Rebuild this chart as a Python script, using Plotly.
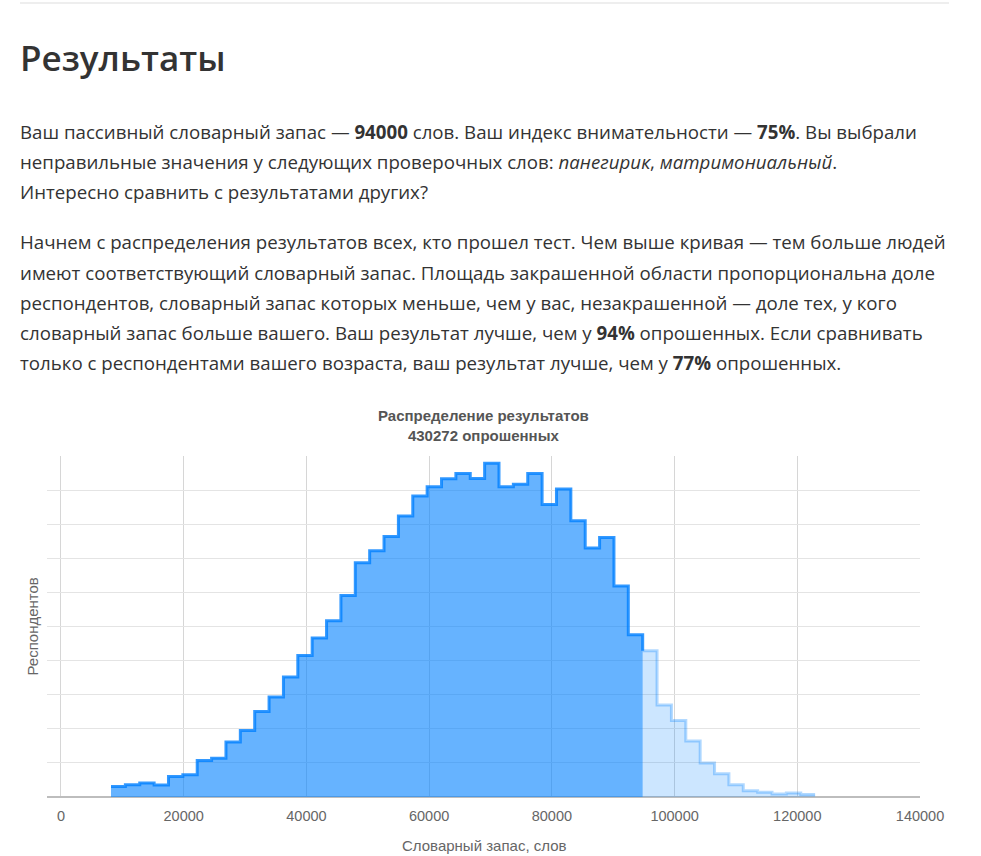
import plotly.graph_objects as go

# histogram of vocabulary results, bins of ~2342 words starting at 8150
bin_start = 8150
bin_width = 2342

below_counts = [620, 720, 820, 700, 1200, 1300, 2140, 2280, 3220, 3900,
                5020, 5860, 7040, 8300, 9320, 10340, 11820, 13740, 14440, 15280,
                16480, 17660, 18200, 18660, 18980, 18680, 19580, 18200, 18340, 18980,
                17160, 18060, 16200, 14600, 15220, 12380, 9520]
above_counts = [8580, 5400, 4480, 3280, 2000, 1360, 720, 360, 280, 180, 240, 140]

x_ticks = [0, 20000, 40000, 60000, 80000, 100000, 120000, 140000]
x_labels = ['0', '20000', '40000', '60000', '80000', '100000', '120000', '140000']

heading = 'Результаты'
para1 = [
    'Ваш пассивный словарный запас — <b>94000</b> слов. Ваш индекс внимательности — <b>75%</b>. Вы выбрали',
    'неправильные значения у следующих проверочных слов: <i>панегирик</i>, <i>матримониальный</i>.',
    'Интересно сравнить с результатами других?',
]
para2 = [
    'Начнем с распределения результатов всех, кто прошел тест. Чем выше кривая — тем больше людей',
    'имеют соответствующий словарный запас. Площадь закрашенной области пропорциональна доле',
    'респондентов, словарный запас которых меньше, чем у вас, незакрашенной — доле тех, у кого',
    'словарный запас больше вашего. Ваш результат лучше, чем у <b>94%</b> опрошенных. Если сравнивать',
    'только с респондентами вашего возраста, ваш результат лучше, чем у <b>77%</b> опрошенных.',
]
chart_title = '<b>Распределение результатов</b><br><b>430272 опрошенных</b>'
x_title = 'Словарный запас, слов'
y_title = 'Респондентов'

W, H = 981, 856
L, R, T, B = 47, 61, 456, 59
PW, PH = W - L - R, H - T - B


def px(x):
    return (x - L) / PW


def py(y):
    return (H - B - y) / PH


n_below = len(below_counts)
edges = [bin_start + i * bin_width for i in range(n_below + len(above_counts) + 1)]

x_below = edges[:n_below + 1]
y_below = below_counts + [above_counts[0]]
x_above = edges[n_below:]
y_above = above_counts + [above_counts[-1]]

fig = go.Figure()
fig.add_trace(go.Scatter(x=x_above, y=y_above, mode='lines', line_shape='hv',
                         fill='tozeroy', fillcolor='rgba(0,128,255,0.2)',
                         line=dict(color='rgba(0,128,255,0.3)', width=3),
                         hoverinfo='skip'))
fig.add_trace(go.Scatter(x=x_below, y=y_below, mode='lines', line_shape='hv',
                         fill='tozeroy', fillcolor='rgba(0,128,255,0.6)',
                         line=dict(color='rgba(0,128,255,0.8)', width=3),
                         hoverinfo='skip'))

page_font = 'Open Sans'
text_size = 18.7
annotations = [
    dict(text=heading, x=px(18), y=py(57), font=dict(size=35, color='#333', family=page_font, weight=600)),
]
for i, line in enumerate(para1):
    annotations.append(dict(text=line, x=px(18), y=py(131 + 30 * i),
                            font=dict(size=text_size, color='#333', family=page_font)))
for i, line in enumerate(para2):
    annotations.append(dict(text=line, x=px(18), y=py(242 + 30 * i),
                            font=dict(size=text_size, color='#333', family=page_font)))
for a in annotations:
    a.update(xref='paper', yref='paper', xanchor='left', yanchor='middle', showarrow=False)

annotations += [
    dict(text=chart_title, x=0.5, y=py(425), xref='paper', yref='paper', showarrow=False,
         xanchor='center', yanchor='middle', font=dict(size=15, color='#555', family='Liberation Sans')),
    dict(text=x_title, x=0.5, y=py(845), xref='paper', yref='paper', showarrow=False,
         xanchor='center', yanchor='middle', font=dict(size=15, color='#666', family='Liberation Sans')),
    dict(text=y_title, x=px(32), y=0.5, xref='paper', yref='paper', showarrow=False, textangle=-90,
         xanchor='center', yanchor='middle', font=dict(size=15, color='#666', family='Liberation Sans')),
]

fig.update_layout(
    width=W, height=H,
    margin=dict(l=L, r=R, t=T, b=B),
    paper_bgcolor='white', plot_bgcolor='white',
    showlegend=False,
    font=dict(family='Liberation Sans', size=14.5, color='#666'),
    annotations=annotations,
    shapes=[dict(type='line', xref='paper', yref='paper', x0=px(20), x1=px(949), y0=py(3), y1=py(3),
                 line=dict(color='#eeeeee', width=2))],
)
fig.update_xaxes(range=[-2280, 140000], tickvals=x_ticks, ticktext=x_labels,
                 ticklabelstandoff=8,
                 showgrid=True, gridcolor='#d6d6d6', gridwidth=1,
                 zeroline=False, showline=False, ticks='', fixedrange=True)
fig.update_yaxes(range=[0, 20000], dtick=2000, showticklabels=False,
                 showgrid=True, gridcolor='#e4e4e4', gridwidth=1,
                 zeroline=True, zerolinecolor='#bdbdbd', zerolinewidth=2,
                 showline=False, ticks='', fixedrange=True)

fig.write_html("out.html", config={'displayModeBar': False},
               post_script="document.body.style.margin='0';")
